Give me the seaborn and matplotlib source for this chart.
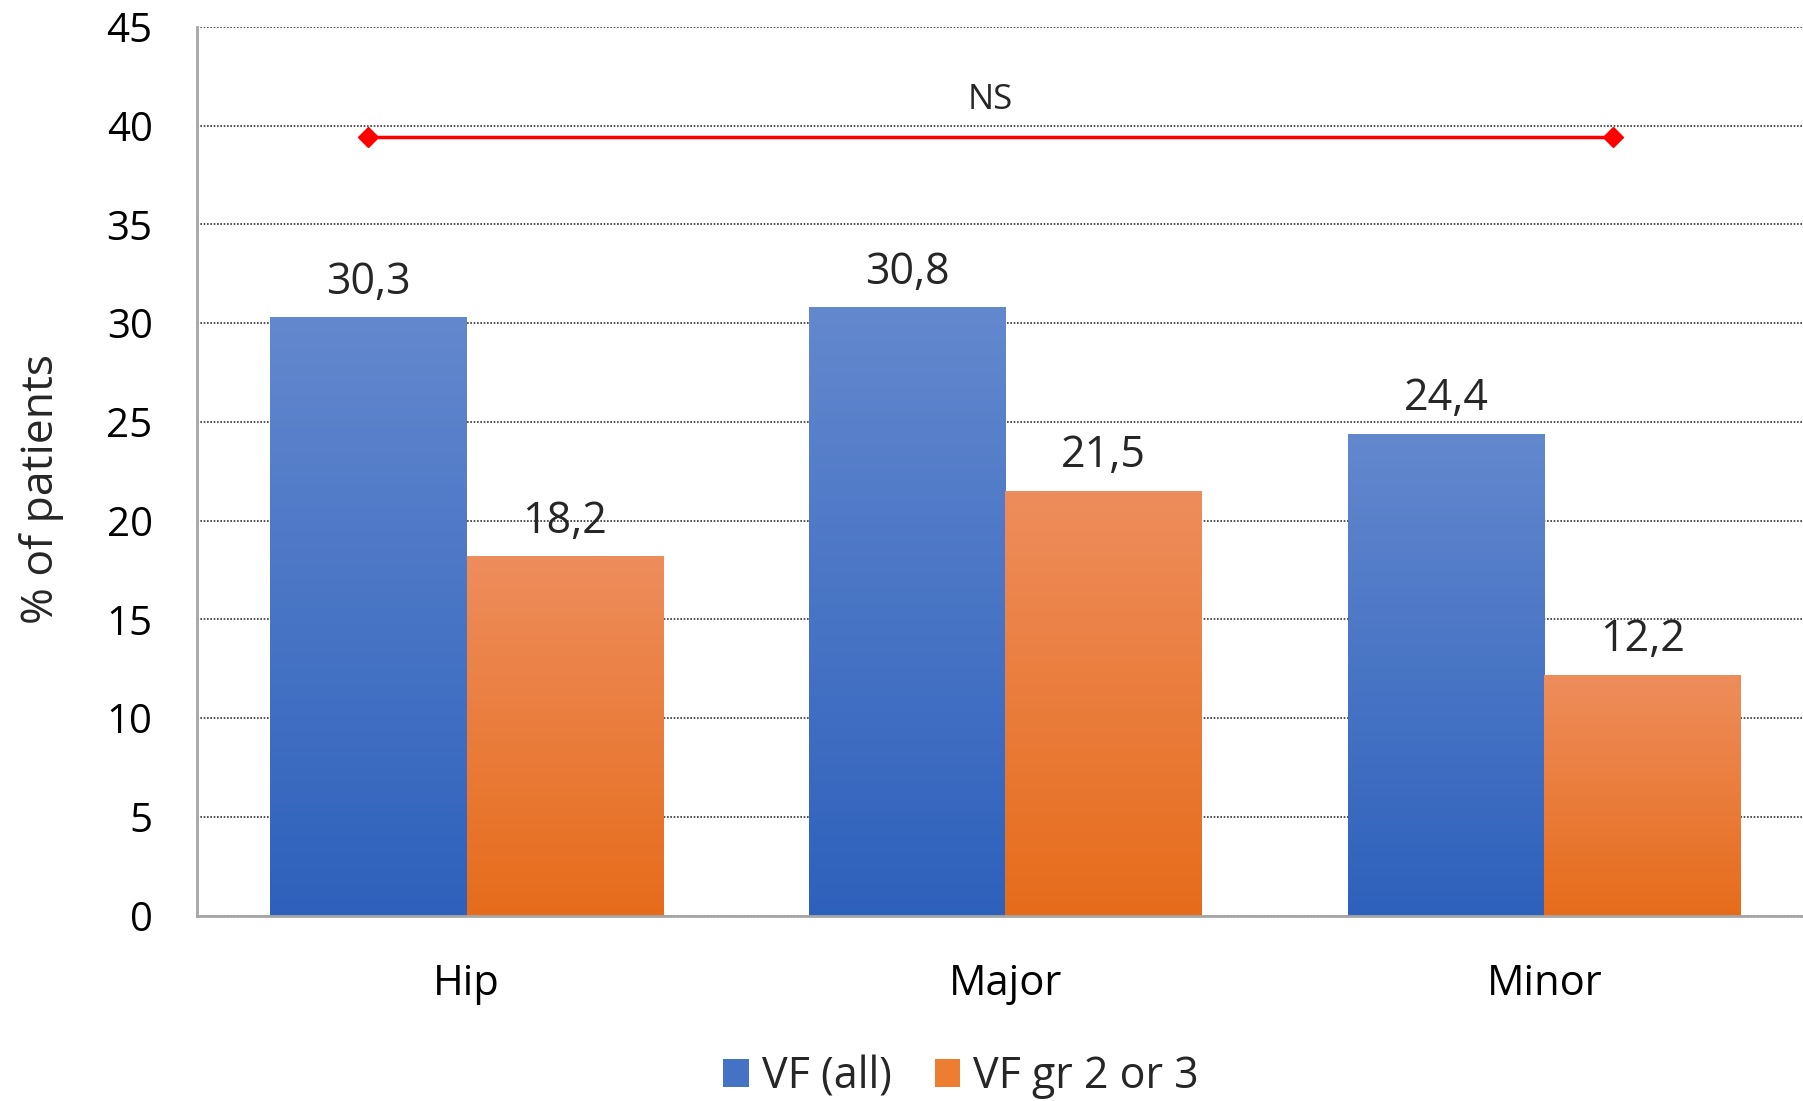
import numpy as np
import pandas as pd
import matplotlib
matplotlib.use("Agg")
import matplotlib.pyplot as plt
import matplotlib.colors as mcolors
from matplotlib.patches import Patch
import seaborn as sns

categories = ["Hip", "Major", "Minor"]
series_names = ["VF (all)", "VF gr 2 or 3"]
vf_all = [30.3, 30.8, 24.4]
vf_gr23 = [18.2, 21.5, 12.2]
y_ticks = [0, 5, 10, 15, 20, 25, 30, 35, 40, 45]
ns_label = "NS"
ns_level = 39.4
ns_span = [-0.183, 2.128]

df = pd.DataFrame({
    "category": categories * 2,
    "series": [series_names[0]] * 3 + [series_names[1]] * 3,
    "value": vf_all + vf_gr23,
})

sns.set_theme(style="white")
plt.rcParams["font.family"] = ["Open Sans", "DejaVu Sans"]

# top (light) -> bottom (dark) gradient per series
grad = {
    series_names[0]: ("#6388CE", "#2E61BC"),
    series_names[1]: ("#EE8D5C", "#E66C1B"),
}
mid = {series_names[0]: "#4472C4", series_names[1]: "#ED7D31"}

fig = plt.figure(figsize=(18.03, 11.01), dpi=100)
ax = fig.add_axes([0.1093, 0.1683, 0.8907, 0.8074])

sns.barplot(data=df, x="category", y="value", hue="series",
            palette=mid, width=0.73, gap=0, ax=ax, legend=False,
            saturation=1, edgecolor="none", linewidth=0)

ax.set_xlim(-0.5, 2.48)
ax.set_ylim(0, 45)
ax.set_yticks(y_ticks)
ax.yaxis.grid(True, color="#333333", linestyle=(0, (1, 1)), linewidth=1.2)
ax.set_axisbelow(True)
for s in ["top", "right"]:
    ax.spines[s].set_visible(False)
for s in ["left", "bottom"]:
    ax.spines[s].set_color("#A6A6A6")
    ax.spines[s].set_linewidth(2)
ax.tick_params(axis="both", length=0, colors="black")
ax.tick_params(axis="x", pad=34, labelsize=30)
ax.tick_params(axis="y", pad=32, labelsize=29)
ax.set_xlabel("")
ax.set_ylabel("% of patients", fontsize=32)
ax.yaxis.set_label_coords(-0.083, 0.48)

# gradient fill clipped to each bar, plus value labels
for container, name, vals in zip(ax.containers, series_names, [vf_all, vf_gr23]):
    top_c, bot_c = grad[name]
    cmap = mcolors.LinearSegmentedColormap.from_list(name, [bot_c, top_c])
    for bar, v in zip(container, vals):
        x0 = bar.get_x()
        w = bar.get_width()
        h = bar.get_height()
        g = np.linspace(0, 1, 256).reshape(-1, 1)
        im = ax.imshow(g, cmap=cmap, origin="lower", aspect="auto",
                       extent=[x0, x0 + w, 0, h], zorder=bar.get_zorder())
        im.set_clip_path(bar)
        ax.annotate(f"{v:.1f}".replace(".", ","), (x0 + w / 2, h),
                    xytext=(0, 17), textcoords="offset points",
                    ha="center", va="baseline", fontsize=31)

ax.set_xlim(-0.5, 2.48)
ax.set_ylim(0, 45)

# significance bracket
ax.plot(ns_span, [ns_level, ns_level], color="#FF0000", linewidth=2.5,
        marker="D", markersize=10, zorder=5)
ax.text(sum(ns_span) / 2, 41.3, ns_label, ha="center", va="center", fontsize=25)

handles = [Patch(facecolor=mid[n], edgecolor="none") for n in series_names]
fig.legend(handles, series_names, loc="center", bbox_to_anchor=(0.533, 0.022),
           ncol=2, frameon=False, fontsize=31, handlelength=0.6,
           handleheight=0.6, handletextpad=0.3, columnspacing=1.0,
           borderpad=0, borderaxespad=0)

fig.savefig("out.png", dpi=100)
